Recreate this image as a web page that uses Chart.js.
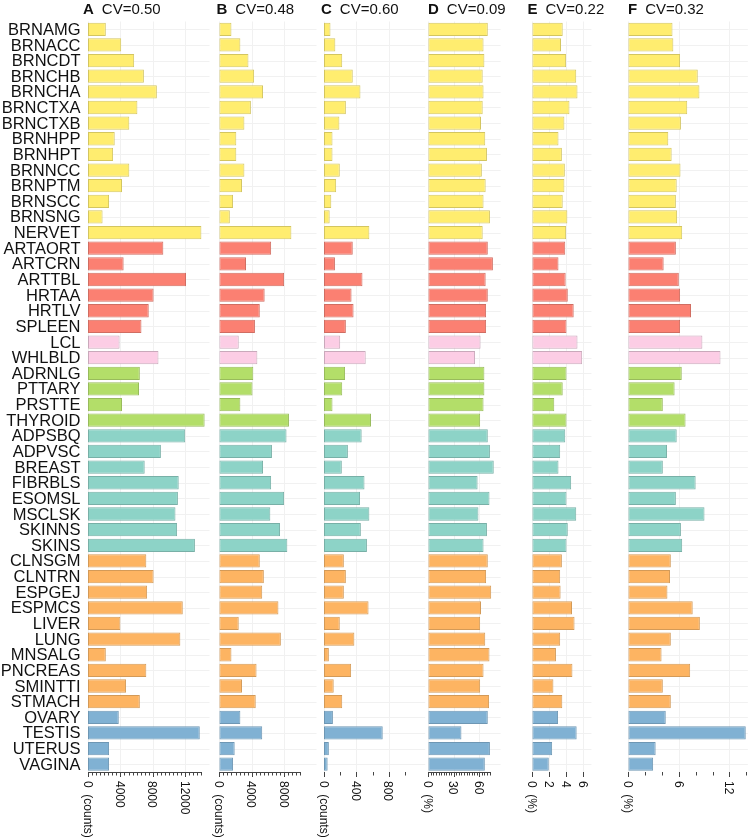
<!DOCTYPE html>
<html>
<head>
<meta charset="utf-8">
<script src="https://cdn.jsdelivr.net/npm/chart.js@4.4.0/dist/chart.umd.min.js"></script>
<style>
  html, body { margin: 0; padding: 0; background: #fff; }
  #wrap { position: relative; width: 748px; height: 837px; overflow: hidden; }
  #wrap canvas { position: absolute; left: 0; top: 0; }
</style>
</head>
<body>
<div id="wrap"></div>
<script>
// Categories (top to bottom)
const tissues = ['BRNAMG', 'BRNACC', 'BRNCDT', 'BRNCHB', 'BRNCHA', 'BRNCTXA', 'BRNCTXB', 'BRNHPP',
  'BRNHPT', 'BRNNCC', 'BRNPTM', 'BRNSCC', 'BRNSNG', 'NERVET',
  'ARTAORT', 'ARTCRN', 'ARTTBL', 'HRTAA', 'HRTLV', 'SPLEEN',
  'LCL', 'WHLBLD',
  'ADRNLG', 'PTTARY', 'PRSTTE', 'THYROID',
  'ADPSBQ', 'ADPVSC', 'BREAST', 'FIBRBLS', 'ESOMSL', 'MSCLSK', 'SKINNS', 'SKINS',
  'CLNSGM', 'CLNTRN', 'ESPGEJ', 'ESPMCS', 'LIVER', 'LUNG', 'MNSALG', 'PNCREAS', 'SMINTTI', 'STMACH',
  'OVARY', 'TESTIS', 'UTERUS', 'VAGINA'];

const groupSizes = [14, 6, 2, 4, 8, 10, 4];
const groupFill = ['#FFED6F', '#FB8072', '#FCCDE5', '#B3DE69', '#8DD3C7', '#FDB462', '#80B1D3'];
const groupEdge = ['#d3c560', '#d06d62', '#c9a9bb', '#98bb5c', '#78b0a7', '#d39a58', '#6e97b4'];

// Panel titles
const panelLetters = ['A', 'B', 'C', 'D', 'E', 'F'];
const panelCV = ['CV=0.50', 'CV=0.48', 'CV=0.60', 'CV=0.09', 'CV=0.22', 'CV=0.32'];
const panelUnits = ['(counts)', '(counts)', '(counts)', '(%)', '(%)', '(%)'];

// Series values
const countsA = [2200, 4100, 5700, 6900, 8500, 6100, 5100, 3300, 3100, 5100, 4200, 2600, 1800, 14000,
  9300, 4400, 12100, 8100, 7500, 6600,
  3900, 8700,
  6400, 6300, 4200, 14400,
  12000, 9000, 7000, 11200, 11100, 10800, 11000, 13200,
  7200, 8100, 7300, 11700, 4000, 11400, 2200, 7200, 4700, 6400,
  3800, 13800, 2600, 2600];
const countsB = [1500, 2600, 3600, 4300, 5400, 3900, 3100, 2100, 2100, 3100, 2800, 1700, 1300, 8900,
  6400, 3300, 8000, 5600, 5000, 4400,
  2400, 4700,
  4200, 4100, 2600, 8600,
  8300, 6500, 5400, 6400, 8000, 6300, 7500, 8400,
  5000, 5500, 5300, 7300, 2400, 7600, 1500, 4600, 2800, 4500,
  2600, 5300, 1900, 1700];
const countsC = [80, 140, 225, 355, 450, 270, 190, 105, 105, 195, 150, 90, 70, 560,
  355, 135, 475, 340, 365, 270,
  200, 515,
  260, 225, 105, 580,
  465, 295, 220, 500, 445, 560, 455, 530,
  245, 270, 245, 550, 195, 375, 60, 335, 120, 225,
  110, 725, 60, 45];
const pctD = [70, 65, 66, 64, 65, 64, 62, 67, 69, 63, 67.5, 65, 72.5, 64,
  70, 76, 67.5, 70, 68, 68,
  61.5, 55,
  66, 66, 65, 61,
  70, 72.5, 77, 58, 72, 59, 69, 65,
  70, 68, 74, 62, 61, 67, 72, 65, 61, 71.5,
  70, 39, 72.5, 66.5];
const pctE = [3.6, 3.4, 4.0, 5.2, 5.35, 4.4, 3.8, 3.1, 3.5, 3.85, 3.8, 3.6, 4.15, 4.0,
  3.9, 3.1, 3.95, 4.2, 4.9, 4.05,
  5.35, 5.9,
  4.05, 3.6, 2.6, 4.05,
  3.9, 3.3, 3.1, 4.6, 4.05, 5.2, 4.2, 4.05,
  3.5, 3.3, 3.35, 4.7, 5.0, 3.3, 2.8, 4.75, 2.5, 3.55,
  3.05, 5.25, 2.35, 1.95];
const pctF = [5.25, 5.35, 6.15, 8.25, 8.45, 7.0, 6.25, 4.75, 5.15, 6.2, 5.75, 5.65, 5.8, 6.4,
  5.65, 4.2, 6.0, 6.15, 7.45, 6.15,
  8.8, 10.95,
  6.35, 5.5, 4.1, 6.8,
  5.75, 4.6, 4.1, 8.0, 5.65, 9.05, 6.25, 6.4,
  5.05, 4.95, 4.65, 7.65, 8.5, 5.05, 3.95, 7.35, 4.1, 5.05,
  4.45, 13.95, 3.25, 2.95];

// Tick labels and tick steps per panel
const tickLabelsA = [0, 4000, 8000, 12000];
const tickLabelsB = [0, 4000, 8000];
const tickLabelsC = [0, 400, 800];
const tickLabelsD = [0, 30, 60];
const tickLabelsE = [0, 2, 4, 6];
const tickLabelsF = [0, 6, 12];

// Layout: pixel of zero, axis max, tick step, last tick, dense rug-like ticks
const layout = [
  { zero: 88, max: 15000, step: 500, tickEnd: 14000, dense: true, titleX: 83 },
  { zero: 219.3, max: 12000, step: 500, tickEnd: 10000, dense: true, titleX: 216.5 },
  { zero: 324, max: 1250, step: 200, tickEnd: 1000, dense: false, titleX: 321 },
  { zero: 428.3, max: 85, step: 3, tickEnd: 72, dense: true, titleX: 428 },
  { zero: 532.3, max: 7, step: 2, tickEnd: 6, dense: false, titleX: 527.5 },
  { zero: 628.3, max: 14.2, step: 2, tickEnd: 14, dense: false, titleX: 628 }
];
const pxPerUnit = [0.0081, 0.0081, 0.081, 0.85, 8.45, 8.42];

const seriesList = [countsA, countsB, countsC, pctD, pctE, pctF];
const tickLabelList = [tickLabelsA, tickLabelsB, tickLabelsC, tickLabelsD, tickLabelsE, tickLabelsF];

const W = 748, H = 837, PLOT_TOP = 21.5, PLOT_BOTTOM = 772;
const FONT = '"Liberation Sans", Arial, Helvetica, sans-serif';

// colour per bar from group sizes
const barFill = [], barEdge = [];
groupSizes.forEach((n, g) => {
  for (let k = 0; k < n; k++) { barFill.push(groupFill[g]); barEdge.push(groupEdge[g]); }
});

function makeDecor(idx) {
  const lay = layout[idx];
  return {
    id: 'decor' + idx,
    beforeDatasetsDraw(chart) {
      const { ctx, chartArea, scales } = chart;
      ctx.save();
      ctx.strokeStyle = '#f1f1f1';
      ctx.lineWidth = 1;
      tissues.forEach((t, i) => {
        const y = Math.round(scales.y.getPixelForValue(i)) + 0.5;
        ctx.beginPath(); ctx.moveTo(chartArea.left, y); ctx.lineTo(chartArea.right, y); ctx.stroke();
      });
      tickLabelList[idx].forEach(v => {
        const x = Math.round(scales.x.getPixelForValue(v)) + 0.5;
        ctx.beginPath(); ctx.moveTo(x, chartArea.top); ctx.lineTo(x, chartArea.bottom); ctx.stroke();
      });
      ctx.restore();
    },
    afterDraw(chart) {
      const { ctx, scales } = chart;
      const xs = scales.x;
      ctx.save();
      // title
      ctx.fillStyle = '#111';
      ctx.textBaseline = 'alphabetic';
      ctx.textAlign = 'left';
      ctx.font = 'bold 15px ' + FONT;
      ctx.fillText(panelLetters[idx], lay.titleX, 13.5);
      const lw = ctx.measureText(panelLetters[idx]).width;
      ctx.font = '15px ' + FONT;
      ctx.fillText(panelCV[idx], lay.titleX + lw + 8, 13.5);

      // axis ticks
      ctx.strokeStyle = '#444';
      ctx.lineWidth = 1;
      const x0 = xs.getPixelForValue(0), x1 = xs.getPixelForValue(lay.tickEnd);
      if (lay.dense) {
        ctx.beginPath(); ctx.moveTo(Math.round(x0), PLOT_BOTTOM + 0.5); ctx.lineTo(Math.round(x1) + 1, PLOT_BOTTOM + 0.5); ctx.stroke();
      }
      const labels = tickLabelList[idx];
      for (let v = 0; v <= lay.tickEnd + 1e-9; v += lay.step) {
        const x = Math.round(xs.getPixelForValue(v)) + 0.5;
        const major = labels.some(l => Math.abs(l - v) < 1e-9);
        ctx.beginPath();
        ctx.moveTo(x, PLOT_BOTTOM);
        ctx.lineTo(x, PLOT_BOTTOM + (major ? 5 : 3.5));
        ctx.stroke();
      }

      // rotated tick labels (reading top to bottom)
      ctx.fillStyle = '#111';
      ctx.font = '12px ' + FONT;
      ctx.textAlign = 'left';
      ctx.textBaseline = 'middle';
      labels.forEach(v => {
        const x = xs.getPixelForValue(v) - 1;
        const txt = v === 0 ? '0  ' + panelUnits[idx] : String(v);
        ctx.save();
        ctx.translate(x, 781);
        ctx.rotate(Math.PI / 2);
        ctx.fillText(txt, 0, 0);
        ctx.restore();
      });

      // category labels on the first panel
      if (idx === 0) {
        ctx.font = '16.5px ' + FONT;
        ctx.textAlign = 'right';
        ctx.textBaseline = 'middle';
        tissues.forEach((t, i) => {
          ctx.fillText(t, 80.5, scales.y.getPixelForValue(i) + 1);
        });
      }
      ctx.restore();
    }
  };
}

const wrap = document.getElementById('wrap');
seriesList.forEach((values, idx) => {
  const lay = layout[idx];
  const right = lay.zero + lay.max * pxPerUnit[idx];
  const canvas = document.createElement('canvas');
  canvas.width = W;
  canvas.height = H;
  wrap.appendChild(canvas);
  new Chart(canvas, {
    type: 'bar',
    data: {
      labels: tissues,
      datasets: [{
        data: values,
        backgroundColor: barFill,
        borderColor: barEdge,
        borderWidth: 1,
        borderSkipped: false,
        barPercentage: 0.85,
        categoryPercentage: 1
      }]
    },
    options: {
      indexAxis: 'y',
      responsive: false,
      animation: false,
      devicePixelRatio: 1,
      layout: { padding: { left: lay.zero, right: W - right, top: PLOT_TOP, bottom: H - PLOT_BOTTOM } },
      scales: {
        x: { display: false, min: 0, max: lay.max },
        y: { display: false }
      },
      plugins: { legend: { display: false }, tooltip: { enabled: false } }
    },
    plugins: [makeDecor(idx)]
  });
});
</script>
</body>
</html>
